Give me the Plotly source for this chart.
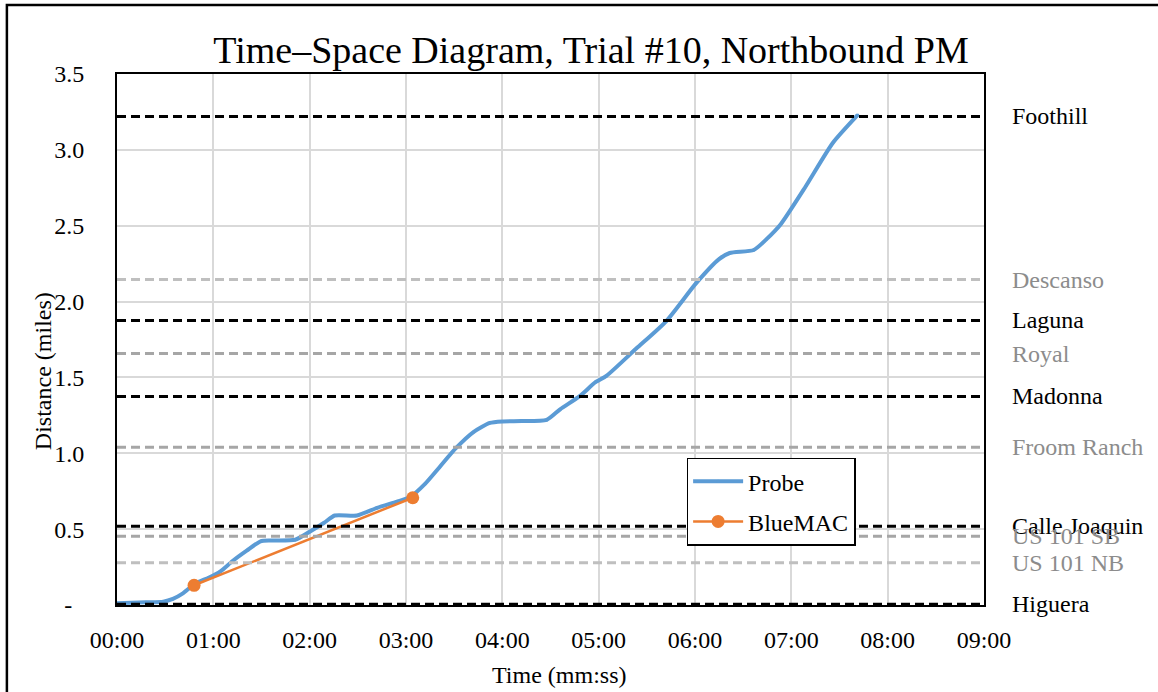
import plotly.graph_objects as go

# Probe vehicle trajectory: elapsed time (minutes) vs. distance travelled (miles)
probe_time = [0.00, 0.15, 0.30, 0.48, 0.58, 0.68, 0.81, 0.95, 1.07, 1.20, 1.35, 1.49,
              1.60, 1.85, 2.00, 2.15, 2.26, 2.49, 2.70, 2.90, 3.04, 3.20, 3.35, 3.52,
              3.70, 3.87, 4.00, 4.20, 4.46, 4.60, 4.80, 4.97, 5.08, 5.39, 5.70, 6.01,
              6.25, 6.36, 6.61, 6.74, 6.89, 7.15, 7.43, 7.69]
probe_dist = [0.012, 0.015, 0.018, 0.022, 0.040, 0.075, 0.140, 0.180, 0.220, 0.290, 0.360, 0.420,
              0.425, 0.430, 0.483, 0.542, 0.590, 0.590, 0.640, 0.680, 0.710, 0.800, 0.910, 1.035,
              1.140, 1.200, 1.210, 1.212, 1.220, 1.290, 1.375, 1.470, 1.510, 1.690, 1.870, 2.120,
              2.280, 2.320, 2.340, 2.410, 2.510, 2.760, 3.045, 3.230]

# BlueMAC detections
bluemac_time = [0.80, 3.07]
bluemac_dist = [0.130, 0.707]

# Cross streets along the corridor (miles from Higuera)
street_names = ["Foothill", "Descanso", "Laguna", "Royal", "Madonna", "Froom Ranch",
                "Calle Joaquin", "US 101 SB", "US 101 NB", "Higuera"]
street_dist = [3.22, 2.145, 1.876, 1.657, 1.375, 1.040, 0.519, 0.453, 0.278, 0.005]
street_major = [True, False, True, False, True, False, True, False, False, True]
street_line_color = ["#000000", "#bfbfbf", "#000000", "#a6a6a6", "#000000", "#a6a6a6",
                     "#000000", "#a6a6a6", "#bfbfbf", "#000000"]

x_tick_vals = list(range(0, 10))
x_tick_text = ["00:00", "01:00", "02:00", "03:00", "04:00", "05:00",
               "06:00", "07:00", "08:00", "09:00"]
y_tick_vals = [0, 0.5, 1.0, 1.5, 2.0, 2.5, 3.0, 3.5]
y_tick_text = ["-\u00a0\u00a0", "0.5", "1.0", "1.5", "2.0", "2.5", "3.0", "3.5"]

FONT = "Liberation Serif, Times New Roman, serif"
FS = 24

fig = go.Figure()

shapes = []
annotations = []
for name, d, major, col in zip(street_names, street_dist, street_major, street_line_color):
    shapes.append(dict(type="line", xref="x", yref="y", x0=0, x1=9, y0=d, y1=d,
                       line=dict(color=col, width=3, dash="9px,5px"), layer="above"))
    annotations.append(dict(xref="paper", yref="y", x=1.03, y=d, text=name,
                            showarrow=False, xanchor="left", yanchor="middle",
                            font=dict(family=FONT, size=FS,
                                      color="#000000" if major else "#8c8c8c")))

# axis titles
annotations.append(dict(xref="paper", yref="paper", x=-0.085, y=0.441,
                        text="Distance (miles)", textangle=-90, showarrow=False,
                        xanchor="center", yanchor="middle",
                        font=dict(family=FONT, size=FS, color="#000000")))
annotations.append(dict(xref="paper", yref="paper", x=0.51, y=-0.131,
                        text="Time (mm:ss)", showarrow=False,
                        xanchor="center", yanchor="middle",
                        font=dict(family=FONT, size=FS, color="#000000")))

fig.add_trace(go.Scatter(
    x=probe_time, y=probe_dist, name="Probe", mode="lines+markers",
    line=dict(color="#5b9bd5", width=4, shape="spline", smoothing=0.6),
    marker=dict(size=3, color="#5b9bd5"), legendgroup="a"))
fig.add_trace(go.Scatter(
    x=bluemac_time, y=bluemac_dist, name="BlueMAC", mode="lines+markers",
    line=dict(color="#ed7d31", width=2.5),
    marker=dict(size=13, color="#ed7d31"), legendgroup="b"))

# outer chart frame
shapes.append(dict(type="rect", xref="paper", yref="paper", x0=-0.127, x1=1.35,
                   y0=-0.3, y1=1.13, line=dict(color="#000000", width=2.5)))

fig.update_layout(
    width=1158, height=692,
    margin=dict(l=117, r=174, t=74, b=87),
    paper_bgcolor="white", plot_bgcolor="white",
    font=dict(family=FONT, size=FS, color="#000000"),
    title=dict(text="Time\u2013Space Diagram, Trial #10, Northbound PM",
               x=591 / 1158, xanchor="center", y=1 - 50 / 692, yanchor="middle",
               font=dict(family=FONT, size=38, color="#000000")),
    shapes=shapes,
    annotations=annotations,
    legend=dict(x=0.657, y=0.2775, xanchor="left", yanchor="top",
                bgcolor="white", bordercolor="#000000", borderwidth=1.5,
                font=dict(family=FONT, size=FS), tracegroupgap=6,
                itemwidth=50),
    showlegend=True,
)

fig.update_xaxes(range=[0, 9], tickvals=x_tick_vals, ticktext=x_tick_text,
                 showgrid=True, gridcolor="#d9d9d9", gridwidth=1.5,
                 showline=True, linecolor="#000000", linewidth=2, mirror=True,
                 zeroline=False, ticks="", ticklabelstandoff=12, automargin=False)
fig.update_yaxes(range=[0, 3.5], tickvals=y_tick_vals, ticktext=y_tick_text,
                 showgrid=True, gridcolor="#d9d9d9", gridwidth=1.5,
                 showline=True, linecolor="#000000", linewidth=2, mirror=True,
                 zeroline=False, ticks="", ticklabelstandoff=26, automargin=False)

fig.write_html("out.html")
